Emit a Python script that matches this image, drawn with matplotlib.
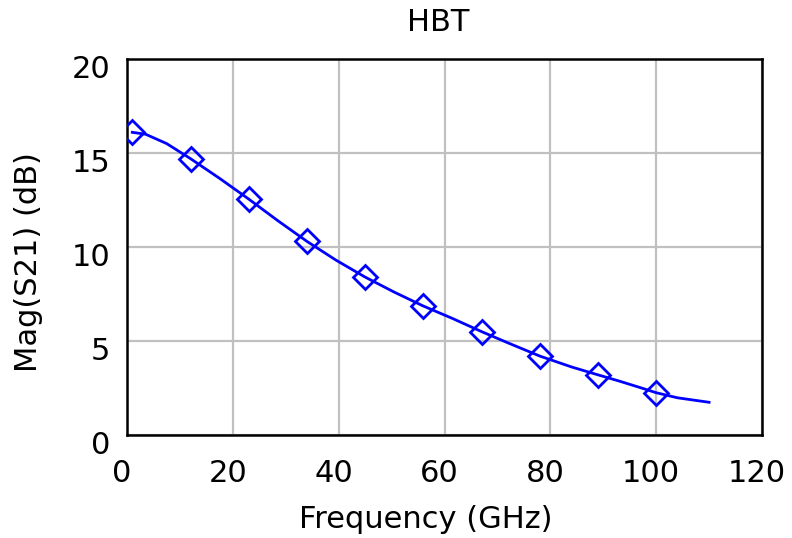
import matplotlib
matplotlib.use("Agg")
import matplotlib.pyplot as plt
import matplotlib.transforms as mtransforms

# swept trace of |S21| vs frequency
freq_ghz = [1, 3.5, 7.5, 12, 17.5, 23, 28.5, 34, 39.5, 45, 50.5, 56, 61.5,
            67, 72, 78, 84, 89, 93, 97, 100, 104, 107, 110]
s21_db = [16.1, 16.0, 15.5, 14.7, 13.65, 12.55, 11.4, 10.3, 9.3, 8.4, 7.6,
          6.86, 6.2, 5.5, 4.9, 4.2, 3.62, 3.2, 2.87, 2.52, 2.25, 1.98, 1.86, 1.74]

# marker points
mark_freq = [1, 12, 23, 34, 45, 56, 67, 78, 89, 100]
mark_db = [16.1, 14.7, 12.55, 10.3, 8.4, 6.86, 5.5, 4.2, 3.2, 2.25]

xticks = [0, 20, 40, 60, 80, 100, 120]
yticks = [0, 5, 10, 15, 20]

fs = 22
fig = plt.figure(figsize=(7.92, 5.38), dpi=100)
ax = fig.add_axes([127 / 792, 1 - 435 / 538, 635 / 792, 376 / 538])

ax.plot(freq_ghz, s21_db, color="#0000ff", lw=2, zorder=3)
ax.plot(mark_freq, mark_db, ls="none", marker="D", ms=12, mfc="none",
        mec="#0000ff", mew=2, zorder=4)

ax.set_xlim(0, 120)
ax.set_ylim(0, 20)
ax.set_xticks(xticks)
ax.set_yticks(yticks)
ax.grid(True, color="#c0c0c0", lw=1.6)
ax.set_axisbelow(True)
ax.tick_params(length=0, labelsize=fs)
ax.tick_params(axis="x", pad=17)
ax.tick_params(axis="y", pad=12)
for sp in ax.spines.values():
    sp.set_linewidth(1.8)

# nudge tick labels a little
dx = mtransforms.ScaledTranslation(-0.05, 0, fig.dpi_scale_trans)
for lab in ax.get_xticklabels():
    lab.set_transform(lab.get_transform() + dx)
dy = mtransforms.ScaledTranslation(0, -0.08, fig.dpi_scale_trans)
for lab in ax.get_yticklabels():
    lab.set_transform(lab.get_transform() + dy)

ax.set_title("HBT", fontsize=fs, pad=20, x=0.49)
ax.set_xlabel("Frequency (GHz)", fontsize=fs)
ax.set_ylabel("Mag(S21) (dB)", fontsize=fs)
ax.xaxis.set_label_coords(0.47, -0.186)
ax.yaxis.set_label_coords(-0.132, 0.46)

fig.savefig("out.png", dpi=100)
